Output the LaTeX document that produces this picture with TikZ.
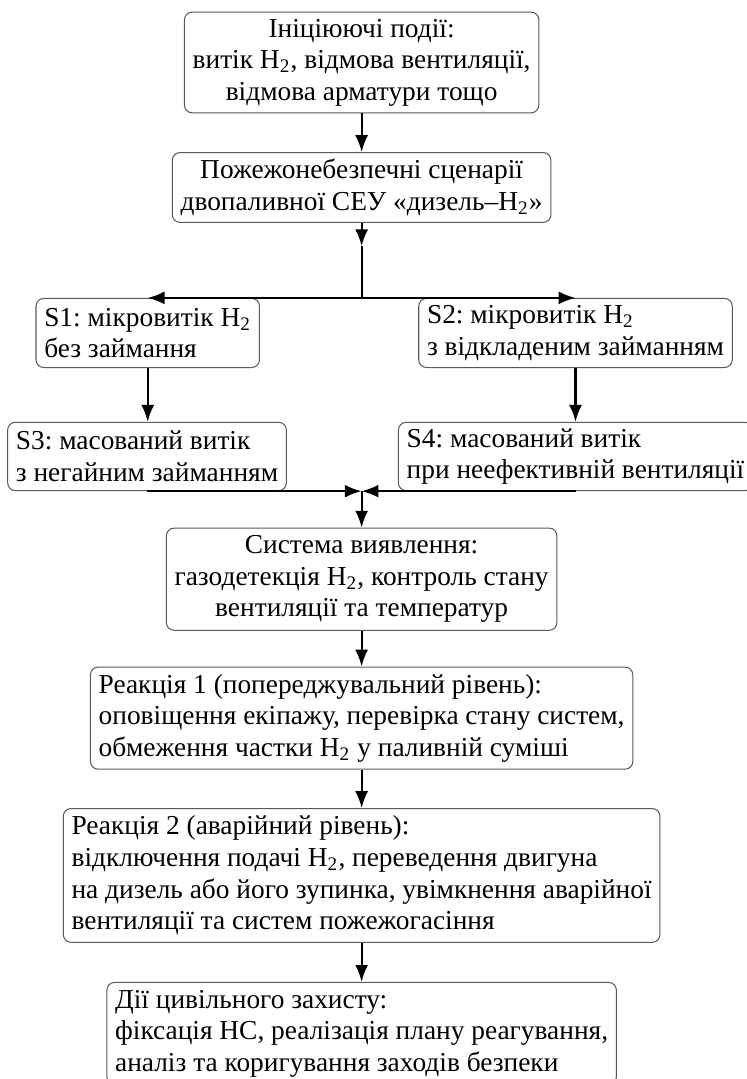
\documentclass[tikz,border=0pt]{standalone}
\usepackage{fontspec}
\setmainfont{Liberation Serif}
\usepackage{tikz}
\usetikzlibrary{calc}
\usetikzlibrary{arrows.meta}
\usetikzlibrary{positioning}

\tikzset{
  blk/.style={rectangle, rounded corners=3pt, draw=black!65, line width=0.4pt, inner xsep=3.2pt, inner ysep=1pt},
  blkc/.style={blk, align=center},
  blkl/.style={blk, align=left},
  lnk/.style={-{Latex[length=6.5pt, width=5pt]}, draw=black, line width=0.8pt}
}

\begin{document}
\frenchspacing
\begin{tikzpicture}[font=\fontsize{10.6}{12.2}\selectfont]
\useasboundingbox (0, 0) rectangle (10.15, -14.68);
\node [blkc, minimum height=1.37cm] (Init) at (4.92, -0.85) {Ініціюючі події:\\ витік H\textsubscript{2}, відмова вентиляції,\\ відмова арматури тощо};
\node [blkc, minimum height=0.95cm] (Scen) at (4.92, -2.55) {Пожежонебезпечні сценарії\\ двопаливної СЕУ «дизель–H\textsubscript{2}»};
\node [blkl, minimum height=0.94cm] (S1) at (2.01, -4.53) {S1: мікровитік H\textsubscript{2}\\ без займання};
\node [blkl, minimum height=0.94cm] (S2) at (7.83, -4.53) {S2: мікровитік H\textsubscript{2}\\ з відкладеним займанням};
\node [blkl, minimum height=0.93cm] (S3) at (2.00, -6.21) {S3: масований витік\\ з негайним займанням};
\node [blkl, minimum height=0.93cm] (S4) at (7.83, -6.21) {S4: масований витік\\ при неефективній вентиляції};
\node [blkc, minimum height=1.39cm] (Det) at (4.92, -7.88) {Система виявлення:\\ газодетекція H\textsubscript{2}, контроль стану\\ вентиляції та температур};
\node [blkl, minimum height=1.39cm] (R1) at (4.92, -9.77) {Реакція 1 (попереджувальний рівень):\\ оповіщення екіпажу, перевірка стану систем,\\ обмеження частки H\textsubscript{2} у паливній суміші};
\node [blkl, minimum height=1.82cm] (R2) at (4.92, -11.91) {Реакція 2 (аварійний рівень):\\ відключення подачі H\textsubscript{2}, переведення двигуна\\ на дизель або його зупинка, увімкнення аварійної\\ вентиляції та систем пожежогасіння};
\node [blkl, minimum height=1.39cm] (CD) at (4.92, -14.06) {Дії цивільного захисту:\\ фіксація НС, реалізація плану реагування,\\ аналіз та коригування заходів безпеки};
\coordinate (ScenTip) at (4.92, -3.35);
\coordinate (Split) at (Scen.south |- S1.north);
\coordinate (Merge) at (Det.north |- S3.south);
\draw [lnk] (Init) to (Scen);
\draw [lnk] (Scen.south) to (ScenTip);
\draw [lnk, -] (ScenTip) to (Split);
\draw [lnk] (Split) to (Split -| S1.north);
\draw [lnk] (Split) to (Split -| S2.north);
\draw [lnk] (S1.south) to (S1.south |- S3.north);
\draw [lnk] (S2.south) to (S2.south |- S4.north);
\draw [lnk] (S3.south) to (Merge);
\draw [lnk] (S4.south |- Merge) to (Merge);
\draw [lnk] (Merge) to (Det.north);
\draw [lnk] (Det) to (R1);
\draw [lnk] (R1) to (R2);
\draw [lnk] (R2) to (CD);
\end{tikzpicture}
\end{document}
